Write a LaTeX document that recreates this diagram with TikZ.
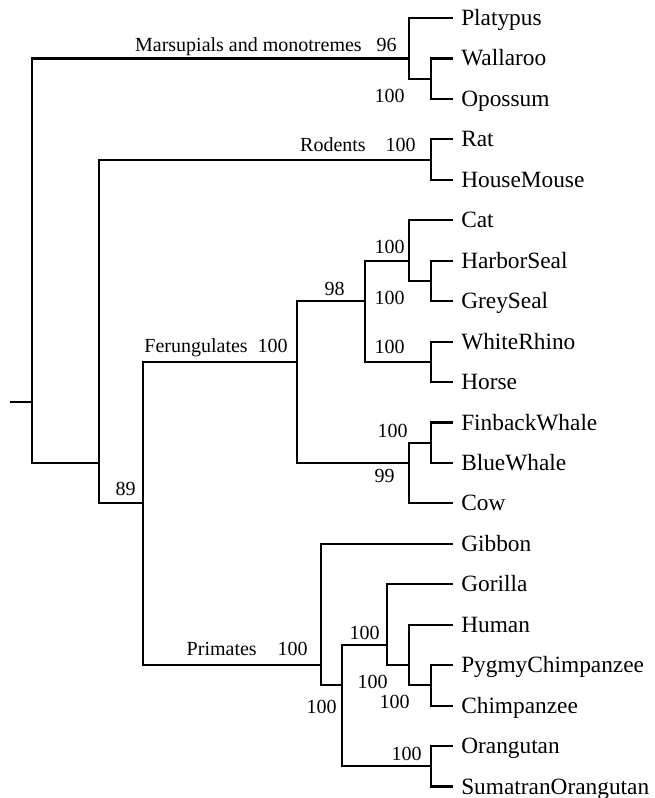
\documentclass[tikz,border=0pt]{standalone}
\usepackage{fontspec}
\setmainfont{Liberation Serif}
\begin{document}
\begin{tikzpicture}[x=0.75pt,y=-0.75pt,
  branch/.style={line width=1.6pt,black},
  leaf/.style={anchor=west,inner xsep=6pt,inner ysep=0pt,text height=11.25pt,text depth=0pt,font=\fontsize{17.5}{20}\selectfont},
  lab/.style={anchor=base east,inner sep=0pt,font=\fontsize{15}{18}\selectfont}]
\useasboundingbox (0,0) rectangle (654,798);
% leaves
\node[leaf] (platypus) at (453,18.0) {Platypus};
\node[leaf] (wallaroo) at (453,58.45) {Wallaroo};
\node[leaf] (opossum) at (453,98.9) {Opossum};
\node[leaf] (rat) at (453,139.35) {Rat};
\node[leaf] (mouse) at (453,179.8) {HouseMouse};
\node[leaf] (cat) at (453,220.25) {Cat};
\node[leaf] (hseal) at (453,260.7) {HarborSeal};
\node[leaf] (gseal) at (453,301.15) {GreySeal};
\node[leaf] (rhino) at (453,341.6) {WhiteRhino};
\node[leaf] (horse) at (453,382.05) {Horse};
\node[leaf] (finback) at (453,422.5) {FinbackWhale};
\node[leaf] (blue) at (453,462.95) {BlueWhale};
\node[leaf] (cow) at (453,503.4) {Cow};
\node[leaf] (gibbon) at (453,543.85) {Gibbon};
\node[leaf] (gorilla) at (453,584.3) {Gorilla};
\node[leaf] (human) at (453,624.75) {Human};
\node[leaf] (pygmy) at (453,665.2) {PygmyChimpanzee};
\node[leaf] (chimp) at (453,705.65) {Chimpanzee};
\node[leaf] (orang) at (453,746.1) {Orangutan};
\node[leaf] (sumatran) at (453,786.55) {SumatranOrangutan};
% internal nodes
\coordinate (stub) at (10,402.3);
\coordinate (R) at (32,402.3);
\coordinate (M) at (409,58.45);
\coordinate (WO) at (431,78.7);
\coordinate (A) at (99,462.95);
\coordinate (Rod) at (431,159.6);
\coordinate (FP) at (143,503.4);
\coordinate (Fer) at (297,361.8);
\coordinate (N98) at (365,301.15);
\coordinate (CatN) at (409,260.7);
\coordinate (Seal) at (431,280.9);
\coordinate (WR) at (431,361.8);
\coordinate (Wh) at (409,462.95);
\coordinate (FB) at (431,442.7);
\coordinate (Prim) at (321,665.2);
\coordinate (In) at (342,685.4);
\coordinate (Gor) at (387,645.0);
\coordinate (Hum) at (409,665.2);
\coordinate (PC) at (431,685.4);
\coordinate (Or) at (431,766.3);
% branches
\draw[branch] (stub) -- (R);
\draw[branch] (R) |- (M);
\draw[branch] (R) |- (A);
\draw[branch] (M) |- (platypus.west);
\draw[branch] (M) |- (WO);
\draw[branch] (WO) |- (wallaroo.west);
\draw[branch] (WO) |- (opossum.west);
\draw[branch] (A) |- (Rod);
\draw[branch] (A) |- (FP);
\draw[branch] (Rod) |- (rat.west);
\draw[branch] (Rod) |- (mouse.west);
\draw[branch] (FP) |- (Fer);
\draw[branch] (FP) |- (Prim);
\draw[branch] (Fer) |- (N98);
\draw[branch] (Fer) |- (Wh);
\draw[branch] (N98) |- (CatN);
\draw[branch] (N98) |- (WR);
\draw[branch] (CatN) |- (cat.west);
\draw[branch] (CatN) |- (Seal);
\draw[branch] (Seal) |- (hseal.west);
\draw[branch] (Seal) |- (gseal.west);
\draw[branch] (WR) |- (rhino.west);
\draw[branch] (WR) |- (horse.west);
\draw[branch] (Wh) |- (FB);
\draw[branch] (Wh) |- (cow.west);
\draw[branch] (FB) |- (finback.west);
\draw[branch] (FB) |- (blue.west);
\draw[branch] (Prim) |- (gibbon.west);
\draw[branch] (Prim) |- (In);
\draw[branch] (In) |- (Gor);
\draw[branch] (In) |- (Or);
\draw[branch] (Gor) |- (gorilla.west);
\draw[branch] (Gor) |- (Hum);
\draw[branch] (Hum) |- (human.west);
\draw[branch] (Hum) |- (PC);
\draw[branch] (PC) |- (pygmy.west);
\draw[branch] (PC) |- (chimp.west);
\draw[branch] (Or) |- (orang.west);
\draw[branch] (Or) |- (sumatran.west);
% labels
\node[lab] (lmars) at (362,52) {Marsupials and monotremes};
\node[lab] (l96) at (397,52) {96};
\node[lab] (lwo) at (405,103) {100};
\node[lab] (lrod) at (366,152) {Rodents};
\node[lab] (lrod2) at (416,152) {100};
\node[lab] (lcat) at (405,254) {100};
\node[lab] (lseal) at (405,304) {100};
\node[lab] (l98) at (345,295) {98};
\node[lab] (lwr) at (405,353) {100};
\node[lab] (lfer) at (248,352) {Ferungulates};
\node[lab] (lfer2) at (288,352) {100};
\node[lab] (lfb) at (408,437) {100};
\node[lab] (l99) at (395,482) {99};
\node[lab] (l89) at (136,495) {89};
\node[lab] (lprim) at (257,655) {Primates};
\node[lab] (lprim2) at (308,655) {100};
\node[lab] (lgor) at (380,639) {100};
\node[lab] (lhum) at (388,688) {100};
\node[lab] (lpc) at (410,708) {100};
\node[lab] (lin) at (337,713) {100};
\node[lab] (lor) at (422,760) {100};
\end{tikzpicture}
\end{document}
